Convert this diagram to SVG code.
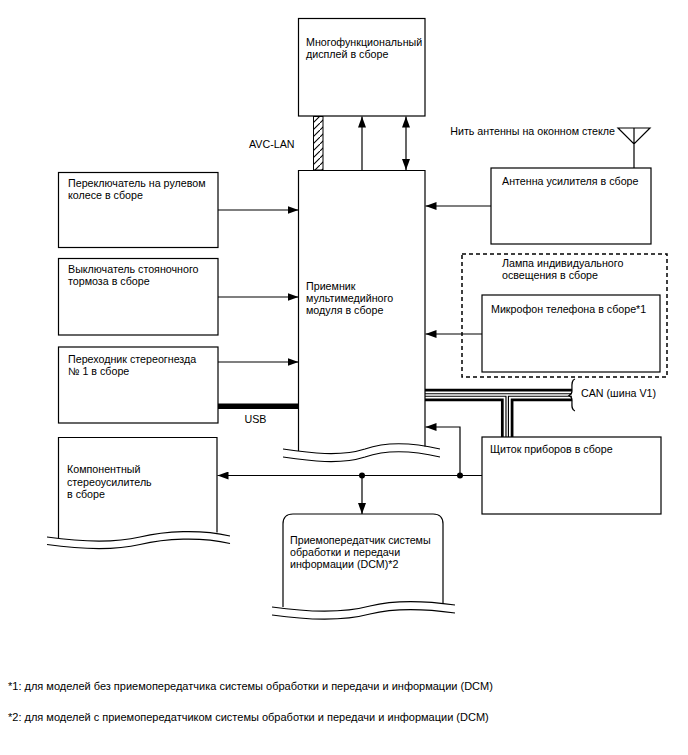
<svg xmlns="http://www.w3.org/2000/svg" width="688" height="755" viewBox="0 0 688 755">
<style>
.t{font-family:"Liberation Sans",Arial,sans-serif;font-size:10.7px;fill:#000}
.f{font-size:11px}
.b{fill:#fff;stroke:#000;stroke-width:1.2}
.l{fill:none;stroke:#000;stroke-width:1.2}
.c{fill:none;stroke-linecap:butt;stroke-linejoin:miter}
</style>
<defs>
<marker id="a" markerUnits="userSpaceOnUse" markerWidth="12" markerHeight="8" refX="11" refY="4" orient="auto-start-reverse"><path d="M0,0 L11,4 L0,8 z" fill="#000"/></marker>
<pattern id="h" patternUnits="userSpaceOnUse" x="313" y="116" width="7" height="7"><path d="M-1,8 L8,-1" stroke="#000" stroke-width="1.1"/></pattern>
</defs>
<rect width="688" height="755" fill="#fff"/>

<g id="connectors">
  <rect x="313.5" y="116.5" width="9.5" height="53.5" fill="url(#h)" stroke="#000" stroke-width="1"/>
  <path class="l" d="M362,170 V116.5" marker-end="url(#a)"/>
  <path class="l" d="M406,170 V116.5" marker-start="url(#a)" marker-end="url(#a)"/>
  <path class="l" d="M218,210 H298.5" marker-end="url(#a)"/>
  <path class="l" d="M218,297 H298.5" marker-end="url(#a)"/>
  <path class="l" d="M218,362 H298.5" marker-end="url(#a)"/>
  <rect x="218" y="403.5" width="81" height="5.5" fill="#000"/>
  <path class="l" d="M491,206 H425.5" marker-end="url(#a)"/>
  <path class="l" d="M482,334 H425.5" marker-end="url(#a)"/>
  <path class="l" d="M482,475.5 H217.5" marker-end="url(#a)"/>
  <path class="l" d="M460,475.5 V427 H425.5" marker-end="url(#a)"/>
  <path class="l" d="M362,475.5 V514" marker-end="url(#a)"/>
  <circle cx="362" cy="475.5" r="3" fill="#000"/>
  <circle cx="460" cy="475.5" r="3" fill="#000"/>
  <g id="can">
    <path class="c" d="M425,395 H572 M507.2,395 V437" stroke="#000" stroke-width="12.5"/>
    <path class="c" d="M425,395 H572 M507.2,395 V437" stroke="#fff" stroke-width="7"/>
    <path class="c" d="M425,395 H572 M507.2,395 V437" stroke="#000" stroke-width="3.6"/>
    <path class="c" d="M425,395 H572 M507.2,395 V437" stroke="#fff" stroke-width="1.3"/>
    <path class="l" d="M575,379 C571,380 572,386 572,391 C572,394 570,395 569,395.5 C570,396 572,397 572,400 C572,405 571,410 575,411" stroke-width="1.1"/>
  </g>
  <text class="t" x="249" y="147.5">AVC-LAN</text>
  <text class="t" x="244.5" y="422.5">USB</text>
  <text class="t" x="581" y="397">CAN (шина V1)</text>
</g>

<g id="display">
  <rect class="b" x="298.5" y="18.5" width="126.5" height="97.5"/>
  <text class="t" x="306" y="45.5">Многофункциональный</text>
  <text class="t" x="306" y="57.5">дисплей в сборе</text>
</g>

<g id="receiver">
  <path class="l" d="M298.5,451 V170.5 H425 V446.5"/>
  <path class="l" d="M283,449 C310,453 340,457 365,449 C385,442 410,442 440,449"/>
  <path class="l" d="M283,457 C310,461 340,465 365,457 C385,450 410,450 440,457"/>
  <text class="t" x="306" y="290">Приемник</text>
  <text class="t" x="306" y="302">мультимедийного</text>
  <text class="t" x="306" y="314">модуля в сборе</text>
</g>

<g id="steering">
  <rect class="b" x="58.5" y="172.5" width="159.5" height="75"/>
  <text class="t" x="68" y="187">Переключатель на рулевом</text>
  <text class="t" x="68" y="199">колесе в сборе</text>
</g>

<g id="parking">
  <rect class="b" x="58.5" y="258.5" width="159.5" height="76.5"/>
  <text class="t" x="68" y="273">Выключатель стояночного</text>
  <text class="t" x="68" y="285">тормоза в сборе</text>
</g>

<g id="stereojack">
  <rect class="b" x="58.5" y="347" width="159.5" height="76"/>
  <text class="t" x="68" y="363">Переходник стереогнезда</text>
  <text class="t" x="68" y="375">№ 1 в сборе</text>
</g>

<g id="amplifier">
  <path class="l" d="M58.5,538 V437.5 H217 V532.5"/>
  <path class="l" d="M47,537 C75,541 110,544 140,537 C165,531 200,529 230,536"/>
  <path class="l" d="M47,544.5 C75,548.5 110,551.5 140,544.5 C165,538.5 200,536.5 230,543.5"/>
  <text class="t" x="67" y="473">Компонентный</text>
  <text class="t" x="67" y="485.5">стереоусилитель</text>
  <text class="t" x="67" y="498">в сборе</text>
</g>

<g id="dcm">
  <path class="l" d="M283,607 V524 Q283,514 293,514 H433 Q443,514 443,524 V604"/>
  <path class="l" d="M272,607 C300,611 340,614 370,606 C390,601 420,600 455,605"/>
  <path class="l" d="M272,615 C300,619 340,622 370,614 C390,609 420,608 455,613"/>
  <text class="t" x="290" y="544">Приемопередатчик системы</text>
  <text class="t" x="290" y="556">обработки и передачи</text>
  <text class="t" x="290" y="568">информации (DCM)*2</text>
</g>

<g id="antenna">
  <path class="l" d="M618,128 H650 L634,144 Z M634,128 V168"/>
  <text class="t" x="615" y="135" text-anchor="end">Нить антенны на оконном стекле</text>
</g>

<g id="antenna-amp">
  <rect class="b" x="491" y="168" width="160" height="76"/>
  <text class="t" x="502" y="185">Антенна усилителя в сборе</text>
</g>

<g id="lamp">
  <rect x="462" y="254" width="205" height="123" fill="none" stroke="#000" stroke-width="1.5" stroke-dasharray="4,3"/>
  <text class="t" x="502" y="267">Лампа индивидуального</text>
  <text class="t" x="502" y="279">освещения в сборе</text>
</g>

<g id="microphone">
  <rect class="b" x="482" y="295" width="178" height="77"/>
  <text class="t" x="491" y="313">Микрофон телефона в сборе*1</text>
</g>

<g id="meter">
  <rect class="b" x="482" y="437" width="179" height="77"/>
  <text class="t" x="490" y="453">Щиток приборов в сборе</text>
</g>

<g id="notes">
  <text class="t f" x="8" y="690">*1: для моделей без приемопередатчика системы обработки и передачи и информации (DCM)</text>
  <text class="t f" x="8" y="720.5">*2: для моделей с приемопередатчиком системы обработки и передачи и информации (DCM)</text>
</g>
</svg>
